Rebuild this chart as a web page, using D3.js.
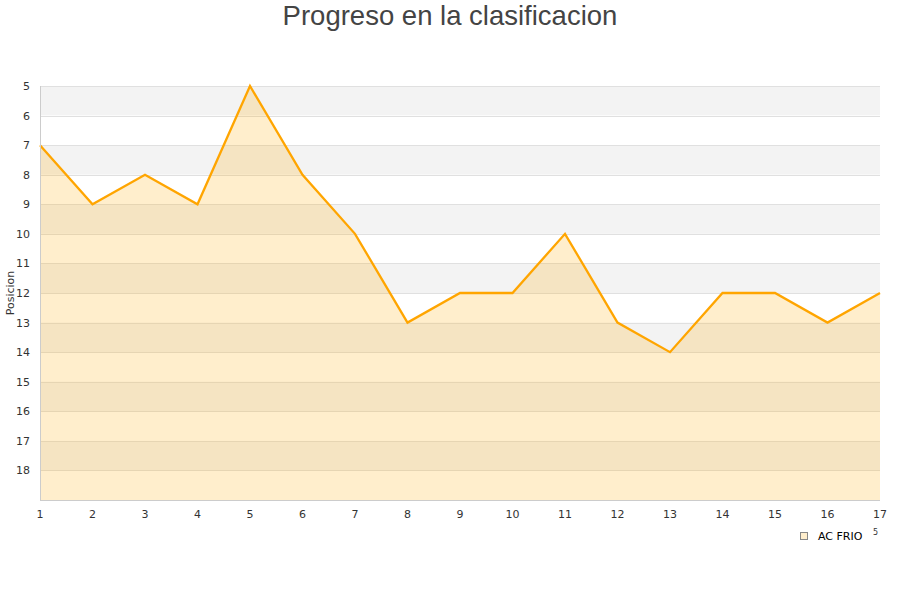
<!DOCTYPE html>
<html><head><meta charset="utf-8">
<script src="https://cdn.jsdelivr.net/npm/d3@7"></script>
<style>body{margin:0;background:#fff;font-family:"DejaVu Sans",sans-serif;}</style>
</head><body>
<svg id="c" width="900" height="600"></svg>
<script>
const jornadas = [1,2,3,4,5,6,7,8,9,10,11,12,13,14,15,16,17];
const posiciones = [7,9,8,9,5,8,10,13,12,12,10,13,14,12,12,13,12];
const yTicks = [5,6,7,8,9,10,11,12,13,14,15,16,17,18];
const seriesName = "AC FRIO";
const titleText = "Progreso en la clasificacion";
const yLabel = "Posicion";

const svg = d3.select("#c");
const L=40,R=880,T=86,B=500;
const x = d3.scaleLinear().domain([1,17]).range([L,R]);
const y = d3.scaleLinear().domain([5,19]).range([T,B]);

// bands
const bands = d3.range(5,19);
svg.selectAll("rect.band").data(bands).enter().append("rect")
  .attr("x",L).attr("width",R-L)
  .attr("y",d=>y(d)).attr("height",d=>y(d+1)-y(d))
  .attr("fill",d=>(d%2===1)?"#f3f3f3":"#ffffff");
// grid
svg.selectAll("line.grid").data(d3.range(5,20)).enter().append("line")
  .attr("x1",L).attr("x2",R).attr("y1",d=>Math.round(y(d))+0.5).attr("y2",d=>Math.round(y(d))+0.5)
  .attr("stroke","#e0e0e0").attr("stroke-width",1);

// area
const area = d3.area().x((d,i)=>x(jornadas[i])).y0(y(19)).y1(d=>y(d));
svg.append("path").datum(posiciones).attr("d",area)
  .attr("fill","rgb(255,170,0)").attr("fill-opacity",0.2);
const line = d3.line().x((d,i)=>x(jornadas[i])).y(d=>y(d));
svg.append("path").datum(posiciones).attr("d",line)
  .attr("fill","none").attr("stroke","#ffa500").attr("stroke-width",2.3).attr("stroke-linejoin","miter");

// axes frame
svg.append("line").attr("x1",L+0.5).attr("x2",L+0.5).attr("y1",T).attr("y2",B).attr("stroke","#cccccc");
svg.append("line").attr("x1",L).attr("x2",R).attr("y1",B+0.5).attr("y2",B+0.5).attr("stroke","#cccccc");

// y tick labels
svg.selectAll("text.yt").data(yTicks).enter().append("text")
  .attr("x",30).attr("y",d=>y(d)+4).attr("text-anchor","end")
  .attr("font-size",11).attr("fill","#333").text(d=>d);
// x tick labels
svg.selectAll("text.xt").data(jornadas).enter().append("text")
  .attr("x",d=>x(d)).attr("y",518).attr("text-anchor","middle")
  .attr("font-size",11).attr("fill","#333").text(d=>d);

// y label
svg.append("text").attr("transform","translate(14,293) rotate(-90)")
  .attr("text-anchor","middle").attr("font-size",11).attr("fill","#333").text(yLabel);

// title
svg.append("text").attr("x",450).attr("y",25).attr("text-anchor","middle")
  .attr("font-family","'Liberation Sans',Arial,sans-serif").attr("font-size",27.5).attr("fill","#444").text(titleText);

// legend
svg.append("rect").attr("x",800.5).attr("y",532.5).attr("width",7).attr("height",7)
  .attr("fill","#ffeecc").attr("stroke","#888");
svg.append("text").attr("x",818).attr("y",540).attr("font-size",11).attr("fill","#000").text(seriesName);
svg.append("text").attr("x",873).attr("y",535).attr("font-size",8).attr("fill","#333").text("5");
</script>
</body></html>
